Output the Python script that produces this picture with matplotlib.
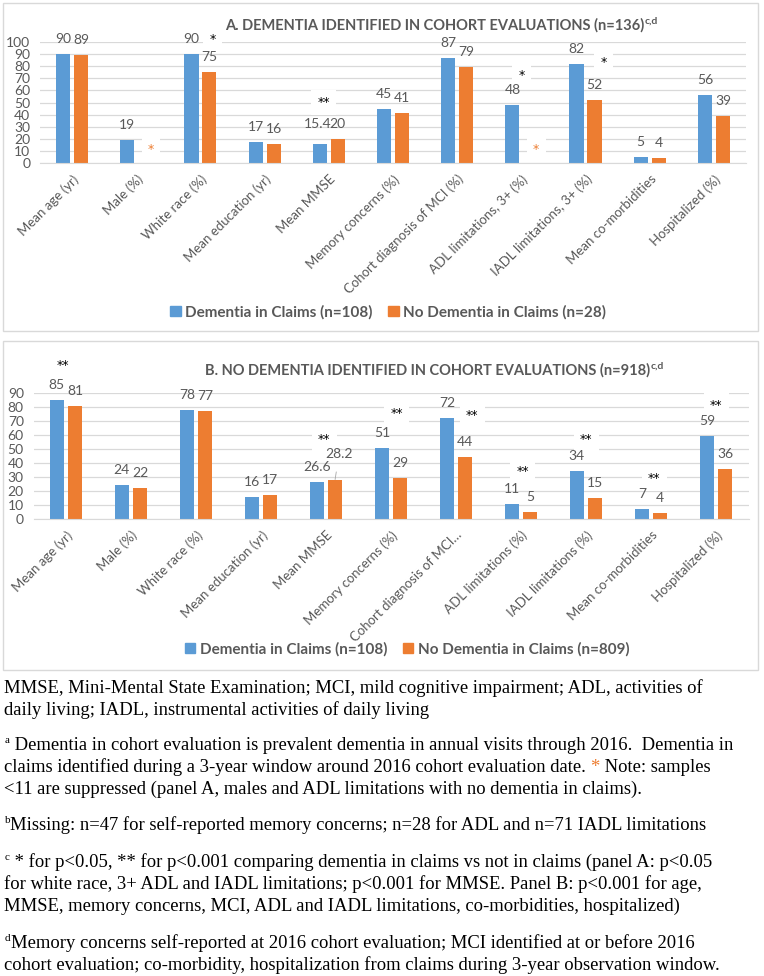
import numpy as np
import matplotlib
matplotlib.use("Agg")
import matplotlib.pyplot as plt
from matplotlib.patches import Rectangle

CHART_FONT = ["Lato", "DejaVu Sans"]   # parecido a Calibri
STAR_FONT = ["DejaVu Sans"]
SERIF = ["Liberation Serif", "DejaVu Serif"]

BLUE = "#5B9BD5"
ORANGE = "#ED7D31"
GREY = "#595959"
GRID = "#D9D9D9"

# Datos panel A
cats_a = ["Mean age (yr)", "Male (%)", "White race (%)", "Mean education (yr)", "Mean MMSE",
          "Memory concerns (%)", "Cohort diagnosis of MCI (%)", "ADL limitations, 3+ (%)",
          "IADL limitations, 3+ (%)", "Mean co-morbidities", "Hospitalized (%)"]
dem_a = [90, 19, 90, 17, 15.4, 45, 87, 48, 82, 5, 56]
nodem_a = [89, np.nan, 75, 16, 20, 41, 79, np.nan, 52, 4, 39]   # nan = suprimido (<11)
sig_a = ["", "", "*", "", "**", "", "", "*", "*", "", ""]

# Datos panel B
cats_b = ["Mean age (yr)", "Male (%)", "White race (%)", "Mean education (yr)", "Mean MMSE",
          "Memory concerns (%)", "Cohort diagnosis of MCI\u2026", "ADL limitations (%)",
          "IADL limitations (%)", "Mean co-morbidities", "Hospitalized (%)"]
dem_b = [85, 24, 78, 16, 26.6, 51, 72, 11, 34, 7, 59]
nodem_b = [81, 22, 77, 17, 28.2, 29, 44, 5, 15, 4, 36]
sig_b = ["**", "", "", "", "**", "**", "**", "**", "**", "**", "**"]

legend_a = ["Dementia in Claims (n=108)", "No Dementia in Claims (n=28)"]
legend_b = ["Dementia in Claims (n=108)", "No Dementia in Claims (n=809)"]

# posiciones de los asteriscos (desplazamiento x en categorias, altura en unidades del eje)
star_pos_a = {2: (0.19, 102), 4: (-0.08, 50), 7: (0.0, 72), 8: (0.28, 83)}
star_pos_b = {0: (-0.05, 110), 4: (-0.03, 57), 5: (0.09, 75), 6: (0.25, 74),
              7: (0.03, 34), 8: (0.0, 57), 9: (0.05, 29), 10: (0.0, 81)}

# etiquetas movidas a mano (panel, serie, categoria) -> desplazamiento en pixeles
nudges = {("a", 0, 4): (-2, 20), ("b", 1, 4): (4, 26)}

W, H = 764, 976
fig = plt.figure(figsize=(W / 100, H / 100), dpi=100)

# eje de fondo en pixeles (encima, sin fondo)
bg = fig.add_axes([0, 0, 1, 1], zorder=5)
bg.set_xlim(0, W)
bg.set_ylim(H, 0)
bg.axis("off")
bg.patch.set_visible(False)

bg.add_patch(Rectangle((3, 3), 755, 328, fill=False, ec=GRID, lw=1))
bg.add_patch(Rectangle((3, 341), 755, 329, fill=False, ec=GRID, lw=1))


def px_axes(left, top, right, bottom):
    return fig.add_axes([left / W, 1 - bottom / H, (right - left) / W, (bottom - top) / H], zorder=2)


def panel(ax, key, cats, dem, nodem, sig, star_pos, ymax, supp_star_y):
    x = np.arange(len(cats))
    ax.bar(x - 0.14, dem, 0.22, color=BLUE, zorder=2)
    ax.bar(x + 0.14, np.nan_to_num(nodem, nan=0.0), 0.22, color=ORANGE, zorder=2)
    ax.set_xlim(-0.5, len(cats) - 0.5)
    ax.set_ylim(0, ymax)
    ax.set_yticks(np.arange(0, ymax + 1, 10))
    ax.yaxis.grid(True, color=GRID, lw=0.9)
    ax.set_axisbelow(True)
    for s in ["top", "right", "left"]:
        ax.spines[s].set_visible(False)
    ax.spines["bottom"].set_color(GRID)
    ax.tick_params(length=0, labelsize=10, labelcolor=GREY)
    ax.tick_params(axis="y", pad=7)
    ax.set_xticks(x)
    ax.set_xticklabels(cats, rotation=45, ha="right", rotation_mode="anchor",
                       family=CHART_FONT, fontsize=9.5, color=GREY)
    for t in ax.get_yticklabels():
        t.set_family(CHART_FONT)
    ax.tick_params(axis="x", pad=7)

    for i in x:
        for k, (vals, dx) in enumerate(((dem, -0.14), (nodem, 0.14))):
            v = vals[i]
            if np.isnan(v):
                ax.text(i + 0.23, supp_star_y, "*", color=ORANGE, ha="center", va="center",
                        fontsize=9, family=STAR_FONT, zorder=3,
                        bbox=dict(fc="white", ec="none", boxstyle="square,pad=0.5"))
                continue
            dxp, dy = nudges.get((key, k, i), (0, 15))
            lead = (key, k, i) == ("b", 1, 4)
            ax.annotate(f"{v:g}", xy=(i + dx, v), xytext=(dxp, dy), textcoords="offset pixels",
                        ha="center", va="center", fontsize=10, color=GREY,
                        family=CHART_FONT, annotation_clip=False, zorder=4,
                        arrowprops=dict(arrowstyle="-", color="#A6A6A6", lw=0.6,
                                        shrinkA=7, shrinkB=0) if lead else None)
        if sig[i]:
            off, yy = star_pos[i]
            ax.text(i + off, yy, sig[i], ha="center", va="center", fontsize=9,
                    color="black", family=STAR_FONT, clip_on=False, zorder=3,
                    bbox=dict(fc="white", ec="none", boxstyle="square,pad=0.5"))


ax_a = px_axes(40, 42, 746, 163)
panel(ax_a, "a", cats_a, dem_a, nodem_a, sig_a, star_pos_a, 100, 11)
ax_b = px_axes(33.5, 393, 748.5, 519)
panel(ax_b, "b", cats_b, dem_b, nodem_b, sig_b, star_pos_b, 90, 0)


def title(x, y, txt):
    t = bg.text(x, y, txt, ha="center", va="center", fontsize=10.5, fontweight="bold",
                color=GREY, family=CHART_FONT)
    bg.annotate("c,d", xy=(1, 0.75), xycoords=t, ha="left", va="center", fontsize=7.5,
                fontweight="bold", color=GREY, family=CHART_FONT)


title(435, 25, "A. DEMENTIA IDENTIFIED IN COHORT EVALUATIONS (n=136)")
title(428, 370, "B. NO DEMENTIA IDENTIFIED IN COHORT EVALUATIONS (n=918)")

for labels, cx, cy in ((legend_a, 388, 312), (legend_b, 407, 649)):
    handles = [Rectangle((0, 0), 1, 1, color=BLUE), Rectangle((0, 0), 1, 1, color=ORANGE)]
    fig.legend(handles, labels, loc="center", bbox_to_anchor=(cx / W, 1 - cy / H), ncol=2,
               frameon=False, handlelength=0.7, handleheight=0.7, handletextpad=0.3,
               columnspacing=1.0, prop=dict(family=CHART_FONT, size=11, weight="bold"),
               labelcolor=GREY)

# notas al pie
FS = 13.4


def line(y, txt, x=4, **kw):
    return bg.text(x, y, txt, ha="left", va="baseline", fontsize=FS, family=SERIF,
                   color="black", **kw)


def sup(y, letter, x=5):
    return bg.text(x, y - 7, letter, ha="left", va="baseline", fontsize=8, family=SERIF,
                   color="black")


def after(prev, y, txt, **kw):
    kw.setdefault("fontsize", FS)
    return bg.annotate(txt, xy=(1, y), xycoords=(prev, "data"), ha="left", va="baseline",
                       family=SERIF, **kw)


B = 5  # baseline por debajo del centro
line(688 + B, "MMSE, Mini-Mental State Examination; MCI, mild cognitive impairment; ADL, activities of")
line(710 + B, "daily living; IADL, instrumental activities of daily living")

s = sup(745 + B, "a")
after(s, 745 + B, " Dementia in cohort evaluation is prevalent dementia in annual visits through 2016.  Dementia in")
p = line(767 + B, "claims identified during a 3-year window around 2016 cohort evaluation date. ")
p = after(p, 767 + B, "*", color=ORANGE)
after(p, 767 + B, " Note: samples")
line(789 + B, "<11 are suppressed (panel A, males and ADL limitations with no dementia in claims).")

s = sup(825 + B, "b")
after(s, 825 + B, "Missing: n=47 for self-reported memory concerns; n=28 for ADL and n=71 IADL limitations")

s = sup(862 + B, "c")
after(s, 862 + B, " * for p<0.05, ** for p<0.001 comparing dementia in claims vs not in claims (panel A: p<0.05")
line(884 + B, "for white race, 3+ ADL and IADL limitations; p<0.001 for MMSE. Panel B: p<0.001 for age,")
line(906 + B, "MMSE, memory concerns, MCI, ADL and IADL limitations, co-morbidities, hospitalized)")

s = sup(943 + B, "d")
after(s, 943 + B, "Memory concerns self-reported at 2016 cohort evaluation; MCI identified at or before 2016")
line(965 + B, "cohort evaluation; co-morbidity, hospitalization from claims during 3-year observation window.")

fig.savefig("out.png", dpi=100)
